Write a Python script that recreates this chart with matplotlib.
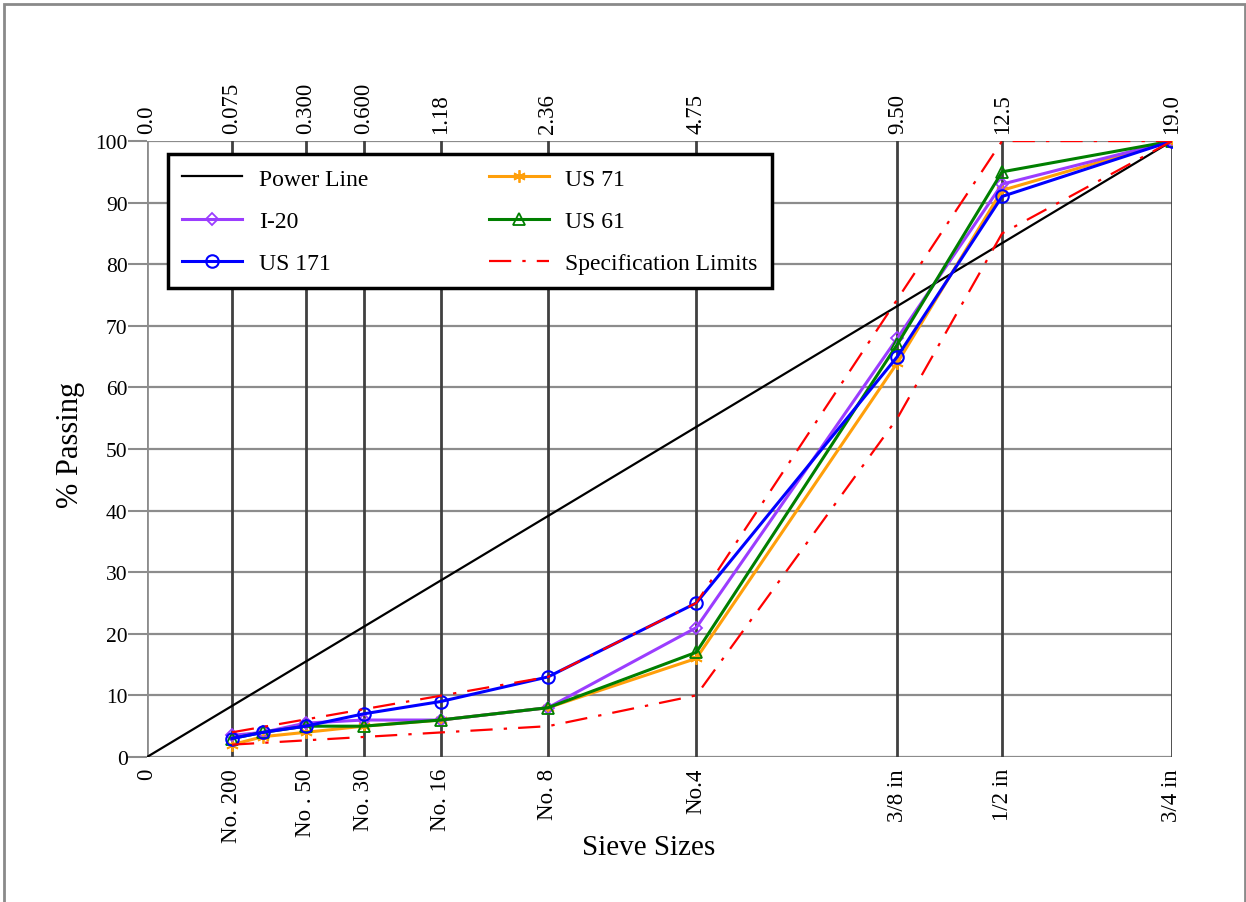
import numpy as np
import matplotlib.pyplot as plt
from matplotlib.patches import Rectangle

plt.rcParams['font.family'] = ['Liberation Serif', 'DejaVu Serif']

# sieve openings (mm) and % passing (1/2 in sieve sits at 12.7 mm on the chart)
sieves = [0.075, 0.15, 0.3, 0.6, 1.18, 2.36, 4.75, 9.5, 12.7, 19.0]
us71 = [2, 3.3, 4, 5, 6, 8, 16, 64, 92, 100]
i20 = [3.5, 4, 5.5, 6, 6, 8, 21, 68, 93, 100]
us61 = [3, 4, 5, 5, 6, 8, 17, 67, 95, 100]
us171 = [3, 4, 5, 7, 9, 13, 25, 65, 91, 100]

power_x = [0, 19.0]
power_y = [0, 100]

spec_up_x = [0.075, 2.36, 4.75, 12.7, 19.0]
spec_up_y = [4, 13, 25, 100, 100]
spec_lo_x = [0.075, 2.36, 4.75, 9.5, 12.7, 19.0]
spec_lo_y = [2, 5, 10, 55, 85, 100]

tick_pos = [0, 0.075, 0.3, 0.6, 1.18, 2.36, 4.75, 9.5, 12.7, 19.0]
bottom_labels = ['0', 'No. 200', 'No . 50', 'No. 30', 'No. 16', 'No. 8', 'No.4',
                 '3/8 in', '1/2 in', '3/4 in']
top_labels = ['0.0', '0.075', '0.300', '0.600', '1.18', '2.36', '4.75', '9.50', '12.5', '19.0']


def fwd(x):
    return np.power(np.clip(x, 0, None), 0.45)


def inv(x):
    return np.power(np.clip(x, 0, None), 1 / 0.45)


fig = plt.figure(figsize=(12.46, 9.03), dpi=100)
fig.patches.append(Rectangle((4 / 1246, -0.01), 1241 / 1246, 1.0045, transform=fig.transFigure,
                             fill=False, edgecolor='#8a8a8a', lw=2))
ax = fig.add_axes([0.118, 0.1606, 0.8226, 0.6821])
ax.set_xscale('function', functions=(fwd, inv))
ax.set_xlim(0, 19.0)
ax.set_ylim(0, 100)

for s in ax.spines.values():
    s.set_visible(False)

# grid
for y in range(0, 101, 10):
    ax.axhline(y, color='#8c8c8c', lw=1.6, zorder=1)
for xp in tick_pos:
    c = '#8c8c8c' if xp == 0 else '#404040'
    ax.axvline(xp, color=c, lw=2, zorder=1)

l_pow, = ax.plot(power_x, power_y, color='black', lw=1.6, label='Power Line', zorder=3)
l71, = ax.plot(sieves, us71, color='#ff9f0a', lw=2.2, marker=(6, 2, 0), ms=9,
               markeredgewidth=1.3, label='US 71', zorder=4)
l20, = ax.plot(sieves, i20, color='#9b3dff', lw=2.2, marker='D', ms=6.5,
               mfc='none', markeredgewidth=1.3, label='I-20', zorder=4)
l61, = ax.plot(sieves, us61, color='#007f00', lw=2.2, marker='^', ms=9,
               mfc='none', markeredgewidth=1.3, label='US 61', zorder=4)
l171, = ax.plot(sieves, us171, color='#0000ff', lw=2.2, marker='o', ms=9,
                mfc='none', markeredgewidth=1.5, label='US 171', zorder=5)
dash = (0, (10, 5, 1.5, 5))
l_spec, = ax.plot(spec_up_x, spec_up_y, color='#ff0000', lw=1.6, ls=dash,
                  label='Specification Limits', zorder=6)
ax.plot(spec_lo_x, spec_lo_y, color='#ff0000', lw=1.6, ls=dash, zorder=6)

ax.set_xticks(tick_pos)
ax.set_xticklabels(bottom_labels, rotation=90, fontsize=16.5)
ax.tick_params(axis='x', length=0, pad=8)
ax.set_yticks(range(0, 101, 10))
ax.tick_params(axis='y', labelsize=15.5, length=14, color='#8c8c8c', width=1.5, pad=0)

ax2 = ax.twiny()
ax2.set_xscale('function', functions=(fwd, inv))
ax2.set_xlim(0, 19.0)
ax2.set_xticks(tick_pos)
ax2.set_xticklabels(top_labels, rotation=90, fontsize=16.5)
ax2.tick_params(axis='x', length=0, pad=6)
for s in ax2.spines.values():
    s.set_visible(False)

ax.set_ylabel('% Passing', fontsize=22)
ax.yaxis.set_label_coords(-0.0605, 0.508)
ax.set_xlabel('Sieve Sizes', fontsize=21)
ax.xaxis.set_label_coords(0.489, -0.125)

leg = ax.legend(handles=[l_pow, l20, l171, l71, l61, l_spec], ncol=2,
                loc='upper left', bbox_to_anchor=(0.0205, 0.979), fontsize=17,
                frameon=True, fancybox=False, edgecolor='black', framealpha=1,
                handlelength=2.55, columnspacing=5.1, labelspacing=0.88,
                borderpad=0.6, handletextpad=0.7, borderaxespad=0)
leg.get_frame().set_linewidth(2.5)
leg.set_zorder(10)

fig.savefig('out.png', dpi=100)
